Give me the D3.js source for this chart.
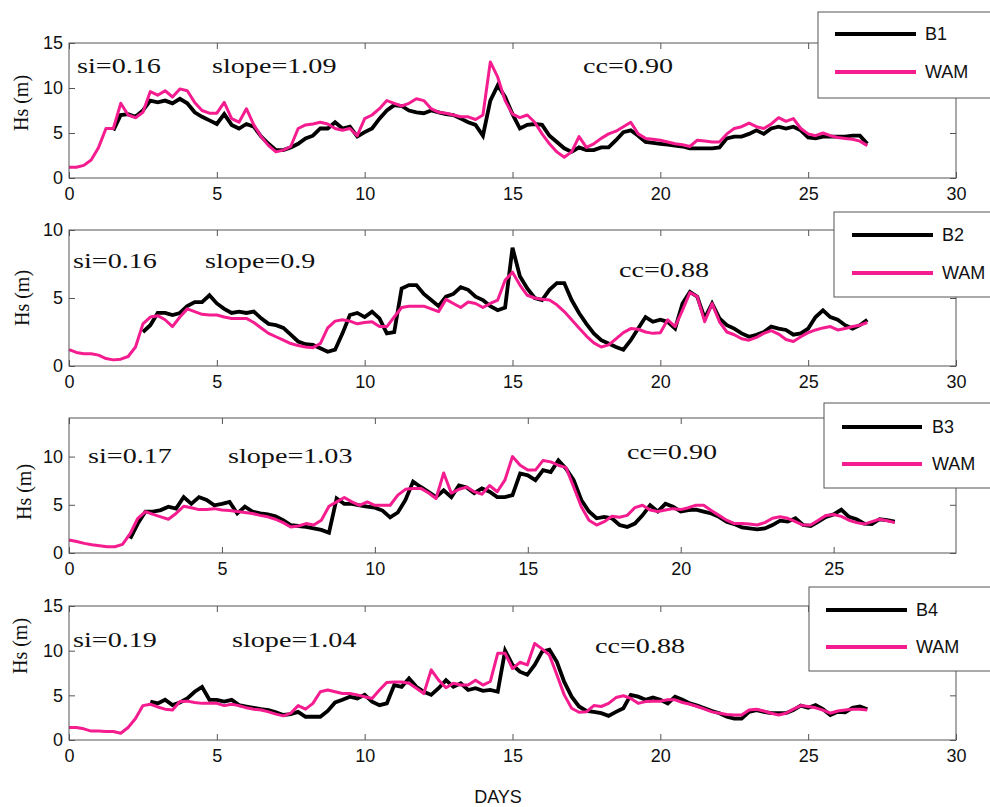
<!DOCTYPE html>
<html>
<head>
<meta charset="utf-8">
<script src="https://cdn.jsdelivr.net/npm/d3@7.9.0/dist/d3.min.js"></script>
<style>
  body { margin: 0; background: #fff; }
  svg { display: block; }
  .tick text { font-family: "Liberation Sans", Arial, sans-serif; font-size: 18px; fill: #111; }
  .tick line { stroke: #555; }
</style>
</head>
<body>
<div id="chart"></div>
<script>
const STEP = 0.25;

const buoys = ['B1', 'B2', 'B3', 'B4'];
const siLabels = ['si=0.16', 'si=0.16', 'si=0.17', 'si=0.19'];
const slopeLabels = ['slope=1.09', 'slope=0.9', 'slope=1.03', 'slope=1.04'];
const ccLabels = ['cc=0.90', 'cc=0.88', 'cc=0.90', 'cc=0.88'];
const yMaxes = [15, 10, 14, 15];
const yTickValues = [[0, 5, 10, 15], [0, 5, 10], [0, 5, 10], [0, 5, 10, 15]];
const xMaxes = [30, 30, 29, 30];
const xTickValues = [
    [0, 5, 10, 15, 20, 25, 30],
    [0, 5, 10, 15, 20, 25, 30],
    [0, 5, 10, 15, 20, 25],
    [0, 5, 10, 15, 20, 25, 30],
];

// observed buoy series (start day, values)
const obsStarts = [1.5, 2.5, 2.0, 2.75];
const b1 = [
    5.3, 7.0, 7.1, 6.8, 7.5, 8.6, 8.4, 8.6,
    8.3, 8.8, 8.3, 7.3, 6.8, 6.4, 6.0, 7.1,
    5.9, 5.5, 6.0, 5.7, 4.6, 3.8, 3.1, 3.1,
    3.4, 3.8, 4.4, 4.7, 5.5, 5.5, 6.2, 5.5,
    5.7, 4.6, 5.1, 5.5, 6.6, 7.5, 8.1, 8.0,
    7.5, 7.3, 7.2, 7.5, 7.3, 7.1, 7.0, 6.6,
    6.2, 5.9, 4.7, 8.6, 10.3, 9.0, 7.1, 5.5,
    5.9, 6.0, 5.9, 4.7, 4.0, 3.3, 2.9, 3.4,
    3.1, 3.1, 3.4, 3.4, 4.2, 5.1, 5.3, 4.7,
    4.0, 3.9, 3.8, 3.7, 3.6, 3.5, 3.3, 3.3,
    3.3, 3.3, 3.4, 4.4, 4.6, 4.6, 4.9, 5.3,
    4.9, 5.5, 5.7, 5.5, 5.7, 5.3, 4.5, 4.4,
    4.6, 4.6, 4.6, 4.6, 4.7, 4.7, 3.8,
];
const b2 = [
    2.5, 3.0, 3.9, 3.9, 3.75, 3.9, 4.4, 4.7,
    4.7, 5.2, 4.6, 4.2, 3.9, 4.0, 3.9, 4.0,
    3.5, 3.1, 3.0, 2.8, 2.3, 1.8, 1.6, 1.55,
    1.3, 1.05, 1.2, 2.4, 3.75, 3.9, 3.6, 4.0,
    3.5, 2.4, 2.5, 5.7, 5.95, 5.95, 5.3, 4.85,
    4.4, 5.1, 5.3, 5.8, 5.6, 5.1, 4.85, 4.4,
    4.1, 4.3, 8.7, 6.6, 5.7, 5.0, 4.85, 5.6,
    6.1, 6.1, 4.85, 3.9, 3.1, 2.4, 1.9, 1.65,
    1.4, 1.2, 1.9, 2.75, 3.6, 3.25, 3.4, 3.25,
    2.75, 4.6, 5.45, 5.1, 3.5, 4.6, 3.5, 3.0,
    2.75, 2.4, 2.15, 2.3, 2.5, 2.9, 2.75, 2.65,
    2.3, 2.4, 2.75, 3.6, 4.1, 3.6, 3.4, 3.0,
    2.75, 3.0, 3.4,
];
const b3 = [
    1.5, 3.05, 4.3, 4.3, 4.45, 4.8, 4.6, 5.8,
    5.1, 5.8, 5.5, 4.95, 5.1, 5.3, 4.1, 4.8,
    4.3, 4.1, 4.0, 3.8, 3.4, 2.9, 2.8, 2.7,
    2.55, 2.4, 2.1, 5.65, 5.1, 5.1, 4.95, 4.8,
    4.7, 4.4, 3.7, 4.2, 5.5, 7.4, 6.85, 6.35,
    5.8, 6.5, 5.8, 7.0, 6.8, 6.2, 6.7, 6.35,
    5.8, 5.8, 6.0, 8.25, 8.05, 7.55, 8.6, 8.4,
    9.6, 8.75, 7.55, 5.5, 4.3, 3.6, 3.75, 3.6,
    2.9, 2.7, 3.05, 3.9, 4.95, 4.3, 5.1, 4.8,
    4.3, 4.45, 4.5, 4.3, 4.1, 3.75, 3.25, 3.0,
    2.65, 2.55, 2.45, 2.55, 2.9, 3.35, 3.25, 3.6,
    2.9, 2.8, 3.25, 3.75, 4.0, 4.5, 3.75, 3.5,
    3.05, 3.0, 3.5, 3.4, 3.25,
];
const b4 = [
    4.3,
    4.1, 4.5, 3.9, 4.2, 4.65, 5.4, 5.95, 4.5,
    4.5, 4.3, 4.5, 3.9, 3.75, 3.6, 3.45, 3.35,
    3.1, 2.8, 2.9, 3.15, 2.6, 2.6, 2.6, 3.25,
    4.2, 4.5, 4.85, 4.65, 5.05, 4.3, 3.9, 4.1,
    6.15, 5.95, 6.9, 5.95, 5.4, 5.05, 5.8, 6.7,
    5.95, 6.35, 5.6, 5.8, 5.5, 5.6, 5.4, 10.0,
    8.4, 7.65, 7.3, 8.4, 9.9, 10.1, 8.75, 6.5,
    4.85, 3.75, 3.25, 3.15, 3.0, 2.7, 3.15, 3.55,
    5.05, 4.85, 4.5, 4.75, 4.5, 4.1, 4.85, 4.5,
    4.1, 3.85, 3.55, 3.25, 3.0, 2.6, 2.4, 2.4,
    3.15, 3.35, 3.15, 3.0, 3.0, 3.0, 3.35, 3.85,
    3.6, 3.9, 3.45, 2.8, 3.15, 3.1, 3.6, 3.75,
    3.45,
];

// WAM model series, all start at day 0
const wam1 = [
    1.2, 1.2, 1.4, 2.0, 3.4, 5.5, 5.5, 8.3,
    7.0, 6.7, 7.3, 9.6, 9.2, 9.7, 9.0, 9.9,
    9.7, 8.4, 7.5, 7.2, 7.2, 8.4, 6.6, 6.2,
    7.7, 5.9, 4.6, 3.6, 2.9, 3.1, 3.5, 5.5,
    5.9, 6.0, 6.2, 6.0, 5.5, 5.3, 5.5, 4.7,
    6.6, 7.0, 7.7, 8.6, 8.3, 8.0, 8.3, 8.8,
    8.6, 7.7, 7.3, 7.2, 7.0, 6.8, 6.8, 6.5,
    7.0, 12.9, 11.2, 8.6, 7.1, 6.7, 7.0, 6.2,
    4.9, 3.8, 2.9, 2.3, 2.9, 4.6, 3.4, 3.8,
    4.4, 4.9, 5.2, 5.7, 6.2, 4.9, 4.4, 4.3,
    4.2, 4.0, 3.8, 3.7, 3.5, 4.2, 4.1, 4.0,
    4.0, 4.9, 5.5, 5.7, 6.1, 5.7, 5.5, 6.0,
    6.7, 6.3, 6.6, 5.5, 4.9, 4.7, 5.0, 4.7,
    4.5, 4.4, 4.3, 4.1, 3.6,
];
const wam2 = [
    1.2, 1.0, 0.9, 0.9, 0.8, 0.55, 0.45, 0.5,
    0.7, 1.4, 3.1, 3.6, 3.7, 3.4, 2.9, 3.6,
    4.2, 4.0, 3.8, 3.75, 3.75, 3.6, 3.5, 3.5,
    3.5, 3.2, 2.8, 2.4, 2.15, 1.9, 1.65, 1.5,
    1.4, 1.35, 1.65, 2.8, 3.3, 3.4, 3.3, 3.1,
    3.2, 3.25, 2.9, 2.9, 3.6, 4.3, 4.4, 4.4,
    4.4, 4.2, 4.0, 4.9, 4.6, 4.3, 4.7, 4.6,
    4.3, 4.6, 4.85, 6.3, 6.9, 5.95, 5.2, 5.0,
    4.9, 4.85, 4.5, 4.0, 3.4, 2.8, 2.2, 1.7,
    1.4, 1.55, 2.0, 2.45, 2.75, 2.7, 2.5, 2.4,
    2.45, 3.4, 2.9, 4.1, 5.4, 5.1, 3.25, 4.6,
    3.25, 2.5, 2.3, 2.0, 1.9, 2.1, 2.4, 2.6,
    2.35, 1.95, 1.8, 2.15, 2.45, 2.65, 2.8, 2.9,
    2.65, 2.75, 2.9, 3.0, 3.2,
];
const wam3 = [
    1.35, 1.2, 1.0, 0.85, 0.75, 0.65, 0.65, 0.9,
    2.0, 3.6, 4.3, 4.0, 3.75, 3.5, 4.1, 4.85,
    4.7, 4.5, 4.5, 4.6, 4.45, 4.4, 4.3, 4.2,
    4.1, 3.9, 3.75, 3.5, 3.15, 2.7, 2.8, 3.05,
    2.9, 3.4, 4.85, 5.3, 5.75, 5.3, 4.95, 5.3,
    4.95, 4.95, 4.95, 6.0, 6.6, 6.7, 6.7, 6.25,
    5.65, 8.3, 6.2, 6.6, 6.85, 6.35, 6.1, 7.0,
    6.35, 7.55, 10.0, 9.1, 8.6, 8.6, 9.6, 9.45,
    9.1, 8.85, 6.85, 4.8, 3.4, 2.9, 3.25, 3.8,
    3.7, 3.9, 4.7, 4.95, 4.45, 4.3, 4.45, 4.6,
    4.5, 4.7, 4.95, 4.95, 4.4, 3.9, 3.4, 3.05,
    3.05, 3.0, 2.9, 3.15, 3.6, 3.75, 3.6, 3.25,
    2.9, 2.9, 3.4, 3.9, 4.0, 3.8, 3.4, 3.15,
    3.0, 3.25, 3.5, 3.35, 3.15,
];
const wam4 = [
    1.4, 1.4, 1.25, 1.0, 1.0, 0.95, 0.95, 0.75,
    1.4, 2.4, 3.85, 4.0, 3.7, 3.45, 3.35, 4.3,
    4.35, 4.2, 4.1, 4.1, 4.1, 3.85, 4.0, 3.85,
    3.6, 3.45, 3.35, 3.15, 2.9, 2.7, 3.0, 3.85,
    3.45, 4.1, 5.4, 5.6, 5.4, 5.2, 5.2, 5.05,
    4.85, 4.65, 5.6, 6.45, 6.5, 6.5, 6.35, 5.8,
    5.2, 7.85, 6.7, 5.85, 6.35, 6.15, 6.15, 6.7,
    6.15, 6.55, 9.7, 9.7, 8.0, 8.7, 8.4, 10.8,
    10.2, 9.5, 7.3, 5.05, 3.55, 3.1, 3.15, 3.85,
    3.75, 4.1, 4.75, 4.95, 4.65, 4.1, 4.3, 4.35,
    4.35, 4.5, 4.5, 4.2, 4.0, 3.75, 3.45, 3.15,
    3.0, 2.85, 2.8, 2.8, 3.35, 3.45, 3.25, 3.0,
    2.8, 3.0, 3.45, 3.85, 3.75, 3.6, 3.35, 3.0,
    3.25, 3.35, 3.45, 3.45, 3.35,
];

const obsSeries = [b1, b2, b3, b4];
const wamSeries = [wam1, wam2, wam3, wam4];

const width = 990;
const height = 807;
const left = 69;
const right = 956;
const pink = '#f41c8e';

// per-panel layout
const frames = [
    { top: 43, bottom: 178, label: [21, 103],
      legend: { x: 818, y: 12, h: 86, x1: 835, x2: 916, y1: 34, y2: 72, tx: 925 },
      si: [77, 73], slope: [212, 73], cc: [583, 73] },
    { top: 230, bottom: 366, label: [22, 298],
      legend: { x: 834, y: 212, h: 85, x1: 852, x2: 933, y1: 235, y2: 273, tx: 942 },
      si: [73, 268], slope: [205, 268], cc: [619, 277] },
    { top: 418, bottom: 553, label: [24, 492],
      legend: { x: 824, y: 403, h: 85, x1: 842, x2: 922, y1: 427, y2: 464, tx: 932 },
      si: [88, 463], slope: [228, 463], cc: [627, 459] },
    { top: 606, bottom: 740, label: [20, 646],
      legend: { x: 809, y: 587, h: 84, x1: 826, x2: 907, y1: 610, y2: 647, tx: 916 },
      si: [73, 647], slope: [232, 647], cc: [595, 653] },
];

const svg = d3.select('#chart')
    .append('svg')
    .attr('width', width)
    .attr('height', height)
    .attr('viewBox', `0 0 ${width} ${height}`);

function serifText(g, pos, txt) {
    g.append('text')
        .attr('transform', `translate(${pos[0]},${pos[1]}) scale(1.28,1)`)
        .attr('font-family', '"Liberation Serif", "Times New Roman", serif')
        .attr('font-size', 22)
        .attr('fill', '#111')
        .text(txt);
}

frames.forEach((f, k) => {
    const x = d3.scaleLinear().domain([0, xMaxes[k]]).range([left, right]);
    const y = d3.scaleLinear().domain([0, yMaxes[k]]).range([f.bottom, f.top]);
    const g = svg.append('g').attr('class', 'panel');

    const lineFrom = (start) => d3.line()
        .x((d, i) => x(start + i * STEP))
        .y((d) => y(d));

    // observations under, model on top
    g.append('path')
        .attr('d', lineFrom(obsStarts[k])(obsSeries[k]))
        .attr('fill', 'none')
        .attr('stroke', '#000')
        .attr('stroke-width', 3.8)
        .attr('stroke-linejoin', 'miter');
    g.append('path')
        .attr('d', lineFrom(0)(wamSeries[k]))
        .attr('fill', 'none')
        .attr('stroke', pink)
        .attr('stroke-width', 3)
        .attr('stroke-linejoin', 'round');

    // inward ticks on all four sides, MATLAB style
    g.append('g')
        .attr('transform', `translate(0,${f.bottom})`)
        .call(d3.axisBottom(x).tickValues(xTickValues[k]).tickSize(-6).tickPadding(9))
        .call((a) => a.select('.domain').remove());
    g.append('g')
        .attr('transform', `translate(0,${f.top})`)
        .call(d3.axisTop(x).tickValues(xTickValues[k]).tickSize(-6).tickFormat(''))
        .call((a) => a.select('.domain').remove());
    g.append('g')
        .attr('transform', `translate(${left},0)`)
        .call(d3.axisLeft(y).tickValues(yTickValues[k]).tickSize(-6).tickPadding(6))
        .call((a) => a.select('.domain').remove());
    g.append('g')
        .attr('transform', `translate(${right},0)`)
        .call(d3.axisRight(y).tickValues(yTickValues[k]).tickSize(-6).tickFormat(''))
        .call((a) => a.select('.domain').remove());

    g.append('rect')
        .attr('x', left)
        .attr('y', f.top)
        .attr('width', right - left)
        .attr('height', f.bottom - f.top)
        .attr('fill', 'none')
        .attr('stroke', '#555')
        .attr('stroke-width', 1);

    // y label
    g.append('text')
        .attr('transform', `translate(${f.label[0]},${f.label[1]}) rotate(-90)`)
        .attr('text-anchor', 'middle')
        .attr('dy', '0.35em')
        .attr('font-family', '"Liberation Serif", "Times New Roman", serif')
        .attr('font-size', 20)
        .attr('fill', '#111')
        .text('Hs (m)');

    // stats
    serifText(g, f.si, siLabels[k]);
    serifText(g, f.slope, slopeLabels[k]);
    serifText(g, f.cc, ccLabels[k]);

    // legend (runs off the right edge like the original)
    const L = f.legend;
    const leg = g.append('g').attr('class', 'legend');
    leg.append('rect')
        .attr('x', L.x)
        .attr('y', L.y)
        .attr('width', width + 20 - L.x)
        .attr('height', L.h)
        .attr('fill', '#fff')
        .attr('stroke', '#555')
        .attr('stroke-width', 1);
    [[buoys[k], '#000', L.y1], ['WAM', pink, L.y2]].forEach(([name, color, ly]) => {
        leg.append('line')
            .attr('x1', L.x1).attr('x2', L.x2)
            .attr('y1', ly).attr('y2', ly)
            .attr('stroke', color)
            .attr('stroke-width', 4);
        leg.append('text')
            .attr('x', L.tx)
            .attr('y', ly)
            .attr('dy', '0.35em')
            .attr('font-family', '"Liberation Sans", Arial, sans-serif')
            .attr('font-size', 18)
            .attr('fill', '#111')
            .text(name);
    });
});

svg.append('text')
    .attr('x', 498)
    .attr('y', 803)
    .attr('text-anchor', 'middle')
    .attr('font-family', '"Liberation Sans", Arial, sans-serif')
    .attr('font-size', 18)
    .attr('fill', '#111')
    .text('DAYS');
</script>
</body>
</html>
